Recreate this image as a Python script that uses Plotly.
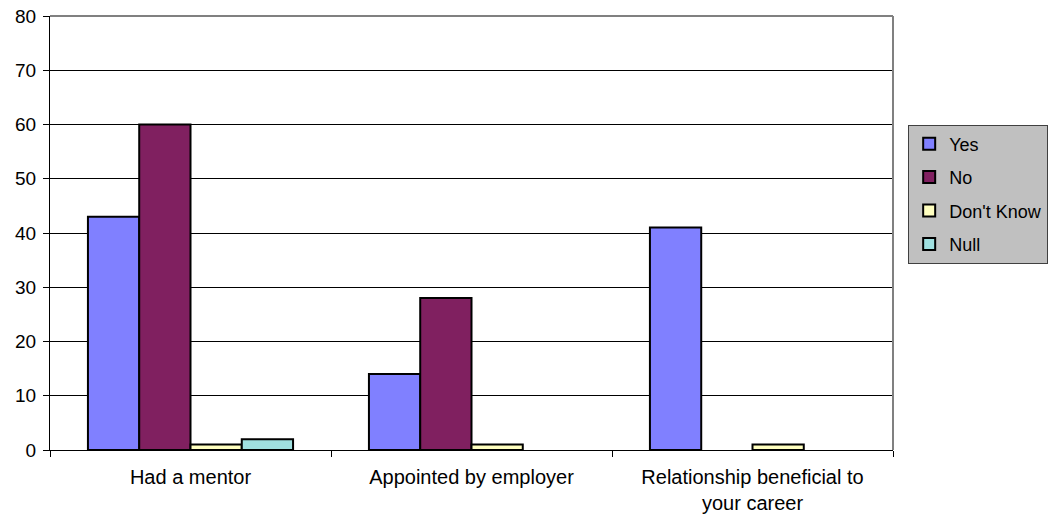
import plotly.graph_objects as go

categories = ["Had a mentor", "Appointed by employer", "Relationship beneficial to<br>your career"]
# None = no response recorded, so no bar is drawn
yes = [43, 14, 41]
no = [60, 28, None]
dont_know = [1, 1, 1]
null = [2, None, None]

series = [
    ("Yes", yes, "#8080FF"),
    ("No", no, "#802060"),
    ("Don't Know", dont_know, "#FFFFC0"),
    ("Null", null, "#A0E0E0"),
]

fig = go.Figure()
for name, vals, color in series:
    fig.add_trace(go.Bar(
        x=categories, y=vals, name=name, legendgroup=name,
        marker=dict(color=color, line=dict(color="black", width=2)),
    ))

font = "Liberation Sans, Arial, sans-serif"
fig.update_layout(
    width=1055, height=519,
    margin=dict(l=50, r=162, t=16, b=69, autoexpand=False),
    paper_bgcolor="white", plot_bgcolor="white",
    barmode="group", bargap=0.27, bargroupgap=0,
    font=dict(family=font, size=19, color="black"),
    showlegend=True,
    legend=dict(
        x=1.018, y=0.750, xanchor="left", yanchor="top",
        bgcolor="#C0C0C0", bordercolor="#404040", borderwidth=1,
        font=dict(family=font, size=18),
        traceorder="grouped", tracegroupgap=7,
        itemwidth=30,
    ),
    xaxis=dict(
        showline=True, linecolor="black", linewidth=1,
        ticks="outside", tickson="boundaries", ticklen=6, tickcolor="black",
        showgrid=False, mirror=False, automargin=False,
        tickfont=dict(size=20), ticklabelstandoff=9,
    ),
    yaxis=dict(
        range=[0, 80], dtick=10,
        showline=True, linecolor="black", linewidth=1,
        ticks="outside", ticklen=6, tickcolor="black",
        showgrid=True, gridcolor="black", gridwidth=1,
        zeroline=False, automargin=False, ticklabelstandoff=3,
    ),
)
# grey frame on the top and right of the plot area
fig.add_shape(type="line", xref="paper", yref="paper", x0=0, x1=1, y0=1, y1=1,
              line=dict(color="#808080", width=2))
fig.add_shape(type="line", xref="paper", yref="paper", x0=1, x1=1, y0=0, y1=1,
              line=dict(color="#808080", width=2))

fig.write_html("out.html")
